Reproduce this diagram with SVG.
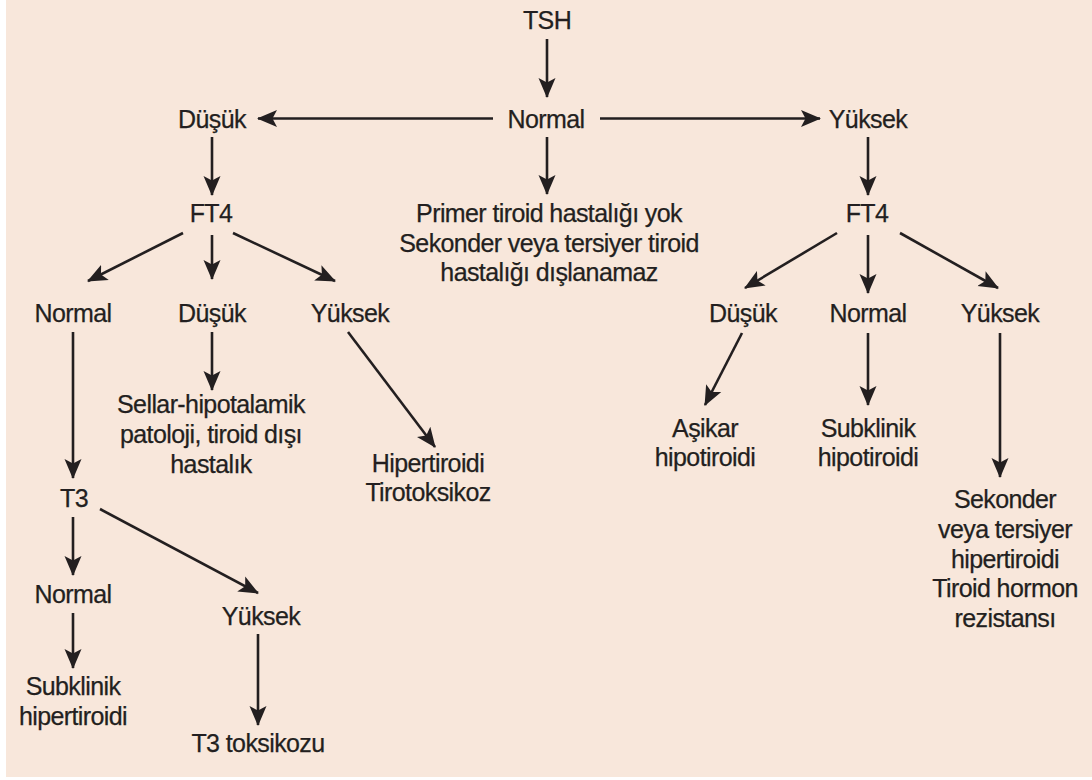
<svg xmlns="http://www.w3.org/2000/svg" width="1092" height="780" viewBox="0 0 1092 780">
<defs>
<style>
text{font-family:"Liberation Sans",Arial,sans-serif;font-size:25px;letter-spacing:-0.6px;fill:#231f20;stroke:#231f20;stroke-width:0.25;text-anchor:middle}
.c line{stroke:#231f20;stroke-width:2.6;marker-end:url(#ah)}
</style>
<marker id="ah" markerUnits="userSpaceOnUse" markerWidth="20" markerHeight="18" refX="19" refY="8.5" orient="auto" viewBox="0 0 20 17">
<path d="M0,0 L20,8.5 L0,17 L4.5,8.5 z" fill="#231f20"/>
</marker>
</defs>
<rect x="6" y="0" width="1086" height="777" fill="#f8e7db"/>
<g class="c" id="connectors">
<line x1="547" y1="39" x2="547" y2="97"/>
<line x1="493" y1="118.5" x2="258" y2="118.5"/>
<line x1="600" y1="118.5" x2="820" y2="118.5"/>
<line x1="547" y1="137" x2="547" y2="194"/>
<line x1="212" y1="137" x2="212" y2="195"/>
<line x1="868" y1="137" x2="868" y2="195"/>
<line x1="183" y1="233" x2="88" y2="281"/>
<line x1="212" y1="235" x2="212" y2="279"/>
<line x1="233" y1="233" x2="335" y2="281"/>
<line x1="837" y1="233" x2="745" y2="288"/>
<line x1="868" y1="235" x2="868" y2="293"/>
<line x1="900" y1="233" x2="998" y2="288"/>
<line x1="73" y1="332" x2="73" y2="478"/>
<line x1="212" y1="332" x2="212" y2="390"/>
<line x1="348" y1="332" x2="435" y2="447"/>
<line x1="742" y1="333" x2="705" y2="405"/>
<line x1="868" y1="333" x2="868" y2="405"/>
<line x1="1000" y1="333" x2="1000" y2="477"/>
<line x1="73" y1="517" x2="73" y2="575"/>
<line x1="100" y1="509" x2="258" y2="593"/>
<line x1="73" y1="613" x2="73" y2="668"/>
<line x1="258" y1="634" x2="258" y2="725"/>
</g>
<g id="tsh"><text x="547" y="29">TSH</text></g>
<g id="tsh-normal"><text x="546" y="128">Normal</text></g>
<g id="tsh-dusuk"><text x="212" y="128">Düşük</text></g>
<g id="tsh-yuksek"><text x="868" y="128">Yüksek</text></g>
<g id="primer"><text x="549" y="222">Primer tiroid hastalığı yok</text><text x="549" y="252">Sekonder veya tersiyer tiroid</text><text x="549" y="281">hastalığı dışlanamaz</text></g>
<g id="ft4-left"><text x="211" y="222">FT4</text></g>
<g id="ft4-right"><text x="867" y="222">FT4</text></g>
<g id="l-normal"><text x="73" y="322">Normal</text></g>
<g id="l-dusuk"><text x="212" y="322">Düşük</text></g>
<g id="l-yuksek"><text x="350" y="322">Yüksek</text></g>
<g id="r-dusuk"><text x="743" y="322">Düşük</text></g>
<g id="r-normal"><text x="868" y="322">Normal</text></g>
<g id="r-yuksek"><text x="1000" y="322">Yüksek</text></g>
<g id="sellar"><text x="211" y="413">Sellar-hipotalamik</text><text x="211" y="443">patoloji, tiroid dışı</text><text x="211" y="473">hastalık</text></g>
<g id="hipertiroidi"><text x="428" y="472">Hipertiroidi</text><text x="428" y="501">Tirotoksikoz</text></g>
<g id="asikar"><text x="705" y="437">Aşikar</text><text x="705" y="466">hipotiroidi</text></g>
<g id="subklinik-hipo"><text x="868" y="437">Subklinik</text><text x="868" y="466">hipotiroidi</text></g>
<g id="sekonder"><text x="1005" y="508">Sekonder</text><text x="1005" y="538">veya tersiyer</text><text x="1005" y="568">hipertiroidi</text><text x="1005" y="597">Tiroid hormon</text><text x="1005" y="627">rezistansı</text></g>
<g id="t3"><text x="74" y="507">T3</text></g>
<g id="t3-normal"><text x="73" y="603">Normal</text></g>
<g id="t3-yuksek"><text x="261" y="625">Yüksek</text></g>
<g id="subklinik-hiper"><text x="73" y="695">Subklinik</text><text x="73" y="725">hipertiroidi</text></g>
<g id="t3tox"><text x="258" y="752">T3 toksikozu</text></g>
</svg>
